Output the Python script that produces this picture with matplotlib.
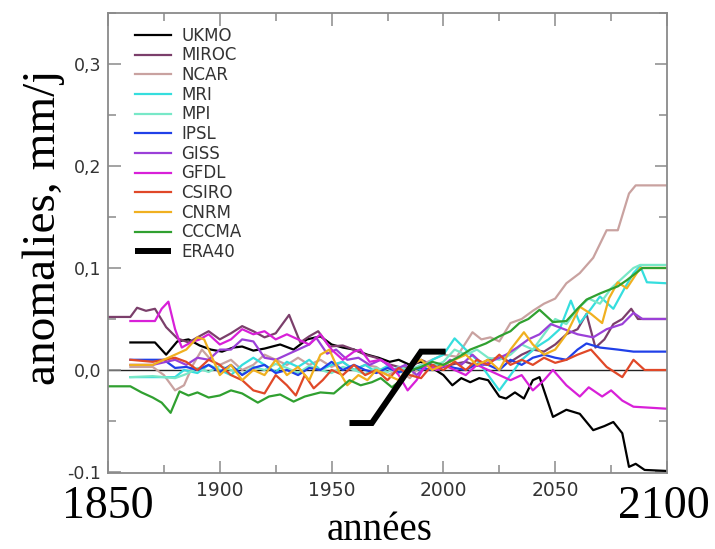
import numpy as np
import matplotlib
matplotlib.use("Agg")
import matplotlib.pyplot as plt
from matplotlib.ticker import MultipleLocator, FixedLocator

# ---------------- data ----------------
model_names = ["UKMO", "MIROC", "NCAR", "MRI", "MPI", "IPSL", "GISS", "GFDL",
               "CSIRO", "CNRM", "CCCMA"]
model_colors = ["#000000", "#7b3f6b", "#c9a2a0", "#35dede", "#78e8c8", "#2040e8",
                "#9b40d8", "#d820d8", "#e04828", "#f0b020", "#30a030"]

ukmo_years = [1860, 1871, 1876, 1881, 1886, 1891, 1896, 1901, 1906, 1910, 1915, 1920, 1927,
              1933, 1939, 1945, 1950, 1955, 1960, 1966, 1971, 1976, 1980, 1985, 1990, 1995,
              2000, 2004, 2008, 2012, 2016, 2020, 2025, 2028, 2032, 2036, 2040, 2043, 2049,
              2055, 2061, 2067, 2072, 2076, 2080, 2083, 2086, 2090, 2100]
ukmo_vals = [0.027, 0.027, 0.015, 0.028, 0.030, 0.024, 0.020, 0.018, 0.022, 0.023, 0.019,
             0.021, 0.025, 0.020, 0.030, 0.033, 0.025, 0.022, 0.020, 0.015, 0.012, 0.008,
             0.010, 0.005, 0.008, 0.002, -0.005, -0.015, -0.008, -0.012, -0.008, -0.010,
             -0.026, -0.028, -0.022, -0.028, -0.010, -0.007, -0.046, -0.039, -0.043,
             -0.059, -0.055, -0.051, -0.062, -0.095, -0.092, -0.098, -0.099]

miroc_years = [1850, 1860, 1863, 1867, 1871, 1876, 1881, 1886, 1890, 1895, 1900, 1905, 1910,
               1915, 1920, 1925, 1931, 1936, 1940, 1944, 1949, 1955, 1960, 1965, 1970, 1975,
               1980, 1985, 1990, 1995, 2000, 2005, 2010, 2015, 2020, 2025, 2030, 2035, 2040,
               2045, 2050, 2055, 2060, 2064, 2068, 2072, 2076, 2080, 2084, 2087, 2100]
miroc_vals = [0.052, 0.052, 0.061, 0.058, 0.060, 0.042, 0.031, 0.027, 0.032, 0.038, 0.030,
              0.036, 0.043, 0.038, 0.032, 0.036, 0.054, 0.027, 0.033, 0.038, 0.023, 0.024,
              0.020, 0.015, 0.012, 0.006, 0.003, 0.002, 0.010, 0.005, 0.003, 0.006, 0.008,
              0.004, 0.010, 0.012, 0.008, 0.015, 0.020, 0.018, 0.025, 0.035, 0.040, 0.055,
              0.022, 0.030, 0.045, 0.050, 0.060, 0.050, 0.050]

ncar_years = [1860, 1870, 1875, 1880, 1884, 1888, 1892, 1896, 1900, 1905, 1910, 1915, 1920,
              1925, 1930, 1935, 1940, 1945, 1950, 1955, 1960, 1965, 1970, 1975, 1980, 1985,
              1990, 1995, 2000, 2006, 2013, 2017, 2021, 2025, 2030, 2035, 2040, 2045, 2050,
              2055, 2061, 2067, 2073, 2078, 2083, 2086, 2100]
ncar_vals = [0.003, 0.003, -0.005, -0.020, -0.015, 0.005, 0.020, 0.010, 0.005, 0.010, 0.000,
             0.005, 0.015, 0.010, 0.005, 0.012, 0.005, 0.010, 0.003, 0.008, 0.000, 0.005,
             0.003, -0.005, 0.000, -0.008, 0.005, 0.010, 0.015, 0.013, 0.037, 0.030, 0.032,
             0.028, 0.046, 0.050, 0.058, 0.065, 0.070, 0.085, 0.095, 0.110, 0.137, 0.137,
             0.173, 0.181, 0.181]

mri_years = [1860, 1880, 1884, 1890, 1895, 1900, 1905, 1910, 1915, 1920, 1925, 1930, 1935,
             1940, 1945, 1950, 1955, 1960, 1965, 1970, 1975, 1980, 1985, 1990, 1995, 2000,
             2005, 2010, 2015, 2020, 2025, 2030, 2035, 2042, 2047, 2052, 2057, 2061, 2066,
             2070, 2076, 2081, 2085, 2088, 2091, 2100]
mri_vals = [-0.007, -0.007, 0.000, -0.003, 0.005, 0.000, -0.005, 0.005, 0.012, 0.005, -0.002,
            0.008, 0.003, 0.010, 0.000, 0.005, 0.008, 0.000, 0.005, -0.002, 0.004, -0.003,
            0.003, 0.000, 0.010, 0.015, 0.031, 0.020, 0.010, -0.005, -0.020, -0.005, 0.010,
            0.023, 0.030, 0.040, 0.068, 0.046, 0.060, 0.072, 0.060, 0.080, 0.095, 0.102,
            0.086, 0.085]

mpi_years = [1860, 1870, 1880, 1885, 1890, 1895, 1900, 1905, 1910, 1915, 1920, 1925, 1930,
             1935, 1940, 1945, 1950, 1955, 1960, 1965, 1970, 1975, 1980, 1985, 1990, 1995,
             2000, 2005, 2010, 2015, 2020, 2025, 2030, 2035, 2040, 2045, 2050, 2055, 2060,
             2065, 2070, 2075, 2080, 2085, 2088, 2100]
mpi_vals = [-0.007, -0.006, -0.008, -0.004, 0.002, -0.002, 0.004, 0.000, -0.004, 0.003,
            0.000, 0.006, 0.002, -0.003, 0.004, 0.000, -0.003, 0.003, 0.000, -0.004, 0.002,
            -0.002, 0.003, 0.000, 0.005, 0.003, 0.008, 0.020, 0.015, 0.020, 0.012, 0.010,
            0.015, 0.025, 0.020, 0.035, 0.050, 0.045, 0.060, 0.070, 0.065, 0.080, 0.090,
            0.100, 0.103, 0.103]

ipsl_years = [1860, 1875, 1880, 1885, 1890, 1895, 1900, 1905, 1910, 1915, 1920, 1925, 1930,
              1935, 1940, 1945, 1950, 1955, 1960, 1965, 1970, 1975, 1980, 1985, 1990, 1995,
              2000, 2005, 2010, 2015, 2020, 2025, 2030, 2035, 2040, 2045, 2050, 2055, 2060,
              2064, 2070, 2078, 2085, 2100]
ipsl_vals = [0.010, 0.010, 0.002, 0.003, 0.000, 0.005, -0.002, 0.005, -0.005, 0.002, 0.005,
             -0.003, 0.000, -0.005, 0.002, 0.000, 0.008, 0.000, 0.005, 0.000, -0.003, 0.002,
             -0.002, 0.000, 0.002, 0.000, 0.005, 0.002, 0.000, 0.006, 0.005, 0.000, 0.010,
             0.005, 0.012, 0.015, 0.012, 0.010, 0.020, 0.026, 0.022, 0.020, 0.018, 0.018]

giss_years = [1860, 1870, 1880, 1885, 1890, 1895, 1900, 1905, 1910, 1915, 1920, 1925, 1930,
              1935, 1940, 1943, 1948, 1952, 1957, 1962, 1967, 1972, 1978, 1983, 1988, 1993,
              1998, 2003, 2008, 2013, 2018, 2023, 2028, 2033, 2038, 2043, 2048, 2054, 2060,
              2067, 2073, 2080, 2085, 2089, 2100]
giss_vals = [0.005, 0.005, 0.010, 0.005, 0.012, 0.010, 0.020, 0.020, 0.030, 0.028, 0.012,
             0.010, 0.015, 0.020, 0.025, 0.032, 0.016, 0.020, 0.010, 0.012, 0.005, 0.010,
             0.000, 0.005, -0.005, 0.005, 0.000, 0.010, 0.005, 0.015, 0.005, 0.010, 0.015,
             0.022, 0.030, 0.035, 0.045, 0.040, 0.035, 0.032, 0.040, 0.045, 0.056, 0.050,
             0.050]

gfdl_years = [1860, 1871, 1874, 1877, 1880, 1883, 1887, 1891, 1895, 1900, 1905, 1910, 1915,
              1920, 1925, 1930, 1935, 1940, 1945, 1950, 1955, 1960, 1963, 1967, 1972, 1976,
              1980, 1984, 1988, 1992, 1997, 2000, 2005, 2010, 2015, 2020, 2025, 2030, 2035,
              2040, 2045, 2049, 2055, 2061, 2065, 2071, 2075, 2080, 2085, 2100]
gfdl_vals = [0.048, 0.048, 0.060, 0.067, 0.040, 0.022, 0.027, 0.030, 0.035, 0.025, 0.030,
             0.040, 0.035, 0.038, 0.030, 0.035, 0.030, 0.025, 0.035, 0.020, 0.010, 0.018,
             0.020, 0.008, 0.010, 0.005, -0.005, -0.020, -0.010, 0.005, 0.000, 0.005, 0.000,
             -0.005, 0.005, 0.000, -0.005, -0.010, -0.005, -0.020, -0.010, 0.000, -0.015,
             -0.026, -0.017, -0.026, -0.020, -0.030, -0.036, -0.038]

csiro_years = [1860, 1870, 1875, 1880, 1885, 1890, 1895, 1900, 1905, 1910, 1915, 1920, 1925,
               1930, 1934, 1938, 1942, 1946, 1950, 1955, 1960, 1965, 1970, 1975, 1980, 1985,
               1990, 1995, 2000, 2005, 2010, 2015, 2020, 2025, 2030, 2035, 2040, 2045, 2050,
               2055, 2060, 2066, 2073, 2080, 2085, 2090, 2100]
csiro_vals = [0.010, 0.008, 0.010, 0.012, 0.008, 0.000, 0.010, 0.005, -0.005, -0.010,
              -0.020, -0.023, -0.005, -0.015, -0.025, -0.005, -0.018, -0.010, 0.000, -0.005,
              0.005, -0.005, 0.000, -0.010, 0.002, -0.005, -0.008, 0.005, 0.000, 0.008,
              0.000, 0.010, 0.005, 0.015, 0.005, 0.010, 0.005, 0.012, 0.007, 0.010, 0.015,
              0.020, 0.003, -0.007, 0.010, 0.000, 0.000]

cnrm_years = [1860, 1870, 1875, 1880, 1885, 1890, 1893, 1897, 1900, 1905, 1910, 1915, 1920,
              1925, 1930, 1935, 1940, 1945, 1949, 1953, 1957, 1962, 1966, 1970, 1975, 1980,
              1985, 1990, 1995, 2000, 2005, 2010, 2015, 2020, 2025, 2030, 2036, 2040, 2045,
              2050, 2055, 2061, 2066, 2071, 2074, 2078, 2082, 2088, 2100]
cnrm_vals = [0.005, 0.005, 0.010, 0.015, 0.020, 0.032, 0.030, 0.010, -0.005, 0.005, -0.010,
             0.000, -0.005, 0.010, -0.005, 0.003, -0.010, 0.015, 0.020, 0.000, -0.015,
             -0.005, -0.010, 0.000, -0.005, -0.010, 0.005, 0.010, 0.000, 0.005, 0.010,
             0.015, 0.005, 0.010, 0.000, 0.020, 0.037, 0.025, 0.015, 0.020, 0.035, 0.062,
             0.055, 0.046, 0.070, 0.086, 0.080, 0.100, 0.100]

cccma_years = [1850, 1860, 1865, 1870, 1874, 1878, 1882, 1886, 1890, 1895, 1900, 1905, 1910,
               1917, 1922, 1927, 1933, 1938, 1945, 1951, 1958, 1963, 1968, 1972, 1977, 1982,
               1986, 1990, 1995, 2000, 2007, 2012, 2019, 2025, 2030, 2034, 2038, 2043, 2049,
               2055, 2060, 2064, 2070, 2078, 2082, 2089, 2100]
cccma_vals = [-0.016, -0.016, -0.022, -0.027, -0.032, -0.042, -0.021, -0.025, -0.022,
              -0.027, -0.025, -0.020, -0.023, -0.032, -0.026, -0.024, -0.031, -0.026,
              -0.022, -0.023, -0.010, -0.015, -0.012, -0.008, -0.017, -0.008, 0.000, 0.003,
              0.008, 0.005, 0.013, 0.020, 0.026, 0.033, 0.038, 0.046, 0.050, 0.059, 0.047,
              0.048, 0.060, 0.069, 0.075, 0.082, 0.088, 0.100, 0.100]

era40_years = [1958, 1968, 1990, 2001]
era40_vals = [-0.052, -0.052, 0.018, 0.018]

x_ticks = [1850, 1900, 1950, 2000, 2050, 2100]
x_tick_labels = ["", "1900", "1950", "2000", "2050", ""]
y_ticks = [-0.1, 0.0, 0.1, 0.2, 0.3]
y_tick_labels = ["-0.1", "0,0", "0,1", "0,2", "0,3"]

series_years = [ukmo_years, miroc_years, ncar_years, mri_years, mpi_years, ipsl_years,
                giss_years, gfdl_years, csiro_years, cnrm_years, cccma_years]
series_vals = [ukmo_vals, miroc_vals, ncar_vals, mri_vals, mpi_vals, ipsl_vals,
               giss_vals, gfdl_vals, csiro_vals, cnrm_vals, cccma_vals]

# ---------------- figure ----------------
W, H = 715, 549
fig = plt.figure(figsize=(W / 100, H / 100), dpi=100)
ax_l, ax_r, ax_t, ax_b = 108, 667, 13, 473
ax = fig.add_axes([ax_l / W, 1 - ax_b / H, (ax_r - ax_l) / W, (ax_b - ax_t) / H])

ax.axhline(0, color="#222222", lw=1.0, zorder=1.5)

for name, col, yy, vv in zip(model_names, model_colors, series_years, series_vals):
    ax.plot(yy, vv, color=col, lw=1.6, label=name, zorder=2, solid_joinstyle="round")

ax.plot(era40_years, era40_vals, color="black", lw=4.3, label="ERA40", zorder=5,
        solid_joinstyle="miter", solid_capstyle="butt")

ax.set_xlim(1850, 2100)
ax.set_ylim(-0.101, 0.350)

ax.xaxis.set_major_locator(FixedLocator(x_ticks))
ax.set_xticklabels(x_tick_labels)
ax.xaxis.set_minor_locator(MultipleLocator(25))
ax.yaxis.set_major_locator(FixedLocator(y_ticks))
ax.set_yticklabels(y_tick_labels)
ax.yaxis.set_minor_locator(MultipleLocator(0.05))

spine_col = "#8a8a8a"
for s in ax.spines.values():
    s.set_color(spine_col)
    s.set_linewidth(1.3)

ax.tick_params(which="both", direction="in", top=True, right=True, color=spine_col,
               width=1.1, labelcolor="#333333")
ax.tick_params(which="major", length=9)
ax.tick_params(which="minor", length=6)
ax.tick_params(axis="x", labelsize=13.5, pad=6)
ax.tick_params(axis="y", labelsize=12.5, pad=5)
for lbl in ax.get_xticklabels() + ax.get_yticklabels():
    lbl.set_family("DejaVu Sans")

leg = ax.legend(loc="upper left", bbox_to_anchor=(0.048, 0.970), frameon=False,
                fontsize=12, handlelength=2.2, handletextpad=0.6, labelspacing=0.1,
                borderaxespad=0, borderpad=0)
for t in leg.get_texts():
    t.set_color("#333333")

serif = "Liberation Serif"
fig.text(44 / W, 1 - 227 / H, "anomalies, mm/j", rotation=90, ha="center", va="center",
         family=serif, fontsize=34)
fig.text(108 / W, 1 - 507 / H, "1850", ha="center", va="center", family=serif, fontsize=33)
fig.text(664 / W, 1 - 507 / H, "2100", ha="center", va="center", family=serif, fontsize=33)
fig.text(380 / W, 1 - 540 / H, "années", ha="center", va="baseline", family=serif,
         fontsize=28)

fig.savefig("out.png", dpi=100, facecolor="white")
